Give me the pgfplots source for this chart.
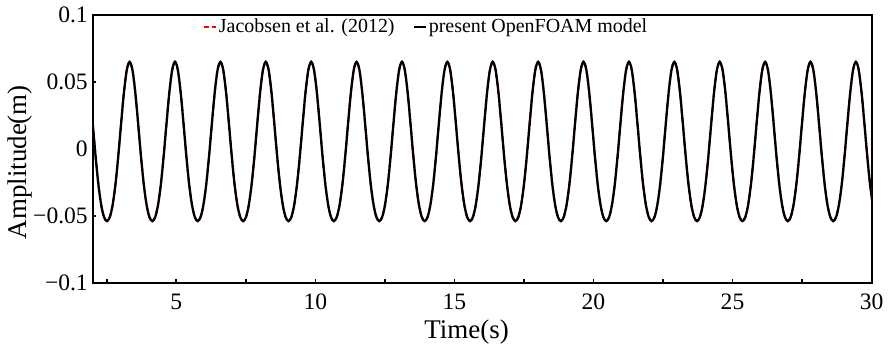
\documentclass[border=0pt]{standalone}
\usepackage{fontspec}
\setmainfont{Liberation Serif}
\usepackage{pgfplots}
\usepackage{pgfplotstable}
\pgfplotsset{compat=1.18}
\pgfplotstableread[row sep=\\]{
x y\\
1.998 0.0189\\ 2.100 -0.0055\\ 2.202 -0.0267\\ 2.304 -0.0421\\ 2.406 -0.0511\\ 2.508 -0.0540\\ 2.610 -0.0511\\ 2.712 -0.0421\\ 2.814 -0.0267\\ 2.916 -0.0055\\ 3.018 0.0189\\ 3.120 0.0421\\ 3.222 0.0589\\
3.324 0.0650\\ 3.426 0.0589\\ 3.528 0.0421\\ 3.630 0.0189\\ 3.732 -0.0055\\ 3.834 -0.0267\\ 3.936 -0.0421\\ 4.038 -0.0511\\ 4.140 -0.0540\\ 4.242 -0.0511\\ 4.344 -0.0421\\ 4.446 -0.0267\\ 4.548 -0.0055\\ 4.650 0.0189\\ 4.752 0.0421\\ 4.854 0.0589\\
4.956 0.0650\\ 5.058 0.0589\\ 5.160 0.0421\\ 5.262 0.0189\\ 5.364 -0.0055\\ 5.466 -0.0267\\ 5.568 -0.0421\\ 5.670 -0.0511\\ 5.772 -0.0540\\ 5.874 -0.0511\\ 5.976 -0.0421\\ 6.078 -0.0267\\ 6.180 -0.0055\\ 6.282 0.0189\\ 6.384 0.0421\\ 6.486 0.0589\\
6.588 0.0650\\ 6.690 0.0589\\ 6.792 0.0421\\ 6.894 0.0189\\ 6.996 -0.0055\\ 7.098 -0.0267\\ 7.200 -0.0421\\ 7.302 -0.0511\\ 7.404 -0.0540\\ 7.506 -0.0511\\ 7.608 -0.0421\\ 7.710 -0.0267\\ 7.812 -0.0055\\ 7.914 0.0189\\ 8.016 0.0421\\ 8.118 0.0589\\
8.220 0.0650\\ 8.322 0.0589\\ 8.424 0.0421\\ 8.526 0.0189\\ 8.628 -0.0055\\ 8.730 -0.0267\\ 8.832 -0.0421\\ 8.934 -0.0511\\ 9.036 -0.0540\\ 9.138 -0.0511\\ 9.240 -0.0421\\ 9.342 -0.0267\\ 9.444 -0.0055\\ 9.546 0.0189\\ 9.648 0.0421\\ 9.750 0.0589\\
9.852 0.0650\\ 9.954 0.0589\\ 10.056 0.0421\\ 10.158 0.0189\\ 10.260 -0.0055\\ 10.362 -0.0267\\ 10.464 -0.0421\\ 10.566 -0.0511\\ 10.668 -0.0540\\ 10.770 -0.0511\\ 10.872 -0.0421\\ 10.974 -0.0267\\ 11.076 -0.0055\\ 11.178 0.0189\\ 11.280 0.0421\\ 11.382 0.0589\\
11.484 0.0650\\ 11.586 0.0589\\ 11.688 0.0421\\ 11.790 0.0189\\ 11.892 -0.0055\\ 11.994 -0.0267\\ 12.096 -0.0421\\ 12.198 -0.0511\\ 12.300 -0.0540\\ 12.402 -0.0511\\ 12.504 -0.0421\\ 12.606 -0.0267\\ 12.708 -0.0055\\ 12.810 0.0189\\ 12.912 0.0421\\ 13.014 0.0589\\
13.116 0.0650\\ 13.218 0.0589\\ 13.320 0.0421\\ 13.422 0.0189\\ 13.524 -0.0055\\ 13.626 -0.0267\\ 13.728 -0.0421\\ 13.830 -0.0511\\ 13.932 -0.0540\\ 14.034 -0.0511\\ 14.136 -0.0421\\ 14.238 -0.0267\\ 14.340 -0.0055\\ 14.442 0.0189\\ 14.544 0.0421\\ 14.646 0.0589\\
14.748 0.0650\\ 14.850 0.0589\\ 14.952 0.0421\\ 15.054 0.0189\\ 15.156 -0.0055\\ 15.258 -0.0267\\ 15.360 -0.0421\\ 15.462 -0.0511\\ 15.564 -0.0540\\ 15.666 -0.0511\\ 15.768 -0.0421\\ 15.870 -0.0267\\ 15.972 -0.0055\\ 16.074 0.0189\\ 16.176 0.0421\\ 16.278 0.0589\\
16.380 0.0650\\ 16.482 0.0589\\ 16.584 0.0421\\ 16.686 0.0189\\ 16.788 -0.0055\\ 16.890 -0.0267\\ 16.992 -0.0421\\ 17.094 -0.0511\\ 17.196 -0.0540\\ 17.298 -0.0511\\ 17.400 -0.0421\\ 17.502 -0.0267\\ 17.604 -0.0055\\ 17.706 0.0189\\ 17.808 0.0421\\ 17.910 0.0589\\
18.012 0.0650\\ 18.114 0.0589\\ 18.216 0.0421\\ 18.318 0.0189\\ 18.420 -0.0055\\ 18.522 -0.0267\\ 18.624 -0.0421\\ 18.726 -0.0511\\ 18.828 -0.0540\\ 18.930 -0.0511\\ 19.032 -0.0421\\ 19.134 -0.0267\\ 19.236 -0.0055\\ 19.338 0.0189\\ 19.440 0.0421\\ 19.542 0.0589\\
19.644 0.0650\\ 19.746 0.0589\\ 19.848 0.0421\\ 19.950 0.0189\\ 20.052 -0.0055\\ 20.154 -0.0267\\ 20.256 -0.0421\\ 20.358 -0.0511\\ 20.460 -0.0540\\ 20.562 -0.0511\\ 20.664 -0.0421\\ 20.766 -0.0267\\ 20.868 -0.0055\\ 20.970 0.0189\\ 21.072 0.0421\\ 21.174 0.0589\\
21.276 0.0650\\ 21.378 0.0589\\ 21.480 0.0421\\ 21.582 0.0189\\ 21.684 -0.0055\\ 21.786 -0.0267\\ 21.888 -0.0421\\ 21.990 -0.0511\\ 22.092 -0.0540\\ 22.194 -0.0511\\ 22.296 -0.0421\\ 22.398 -0.0267\\ 22.500 -0.0055\\ 22.602 0.0189\\ 22.704 0.0421\\ 22.806 0.0589\\
22.908 0.0650\\ 23.010 0.0589\\ 23.112 0.0421\\ 23.214 0.0189\\ 23.316 -0.0055\\ 23.418 -0.0267\\ 23.520 -0.0421\\ 23.622 -0.0511\\ 23.724 -0.0540\\ 23.826 -0.0511\\ 23.928 -0.0421\\ 24.030 -0.0267\\ 24.132 -0.0055\\ 24.234 0.0189\\ 24.336 0.0421\\ 24.438 0.0589\\
24.540 0.0650\\ 24.642 0.0589\\ 24.744 0.0421\\ 24.846 0.0189\\ 24.948 -0.0055\\ 25.050 -0.0267\\ 25.152 -0.0421\\ 25.254 -0.0511\\ 25.356 -0.0540\\ 25.458 -0.0511\\ 25.560 -0.0421\\ 25.662 -0.0267\\ 25.764 -0.0055\\ 25.866 0.0189\\ 25.968 0.0421\\ 26.070 0.0589\\
26.172 0.0650\\ 26.274 0.0589\\ 26.376 0.0421\\ 26.478 0.0189\\ 26.580 -0.0055\\ 26.682 -0.0267\\ 26.784 -0.0421\\ 26.886 -0.0511\\ 26.988 -0.0540\\ 27.090 -0.0511\\ 27.192 -0.0421\\ 27.294 -0.0267\\ 27.396 -0.0055\\ 27.498 0.0189\\ 27.600 0.0421\\ 27.702 0.0589\\
27.804 0.0650\\ 27.906 0.0589\\ 28.008 0.0421\\ 28.110 0.0189\\ 28.212 -0.0055\\ 28.314 -0.0267\\ 28.416 -0.0421\\ 28.518 -0.0511\\ 28.620 -0.0540\\ 28.722 -0.0511\\ 28.824 -0.0421\\ 28.926 -0.0267\\ 29.028 -0.0055\\ 29.130 0.0189\\ 29.232 0.0421\\ 29.334 0.0589\\
29.436 0.0650\\ 29.538 0.0589\\ 29.640 0.0421\\ 29.742 0.0189\\ 29.844 -0.0055\\ 29.946 -0.0267\\ 30.048 -0.0421\\
}\wavedata
\begin{document}
\begin{tikzpicture}
\begin{axis}[
  scale only axis,
  width=390.25pt, height=134.15pt,
  xmin=2, xmax=30, ymin=-0.1, ymax=0.1,
  xtick={5,10,15,20,25,30},
  xticklabels={5,10,15,20,25,30},
  minor xtick={2.5,7.5,12.5,17.5,22.5,27.5},
  ytick={-0.1,-0.05,0,0.05,0.1},
  yticklabels={−0.1,−0.05,0,0.05,0.1},
  tick pos=left,
  tick align=inside,
  major tick length=1.6pt,
  minor tick length=1.6pt,
  every tick/.style={black, line width=0.8pt},
  axis line style={line width=1pt},
  ticklabel style={font=\fontsize{11.8}{13}\selectfont},
  xticklabel style={yshift=-2pt},
  yticklabel style={xshift=1pt},
  xlabel={Time(s)},
  ylabel={Amplitude(m)},
  label style={font=\fontsize{13.5}{15}\selectfont},
  xlabel style={at={(axis description cs:0.48,-0.183)}, anchor=center},
  ylabel style={at={(axis description cs:-0.093,0.45)}, anchor=center},
  legend columns=2,
  legend image code/.code={\draw[#1] (0pt,0pt) -- (6pt,0pt);},
  legend style={draw=none, fill=none, at={(axis description cs:0.428,0.955)}, anchor=center,
    font=\fontsize{10}{12}\selectfont, inner sep=0pt,
    nodes={inner sep=1pt},
    /tikz/every even column/.append style={column sep=8pt}},
]
\addplot[red, smooth, dash pattern=on 2.5pt off 1.5pt, line width=1pt] table {\wavedata};
\addlegendentry{Jacobsen et al. (2012)}
\addplot[black, smooth, line width=1.15pt] table {\wavedata};
\addlegendentry{present OpenFOAM model}
\end{axis}
\path ([shift={(-46.5pt,-34.35pt)}]current axis.south west) rectangle ([shift={(8.25pt,7.5pt)}]current axis.north east);
\end{tikzpicture}
\end{document}
